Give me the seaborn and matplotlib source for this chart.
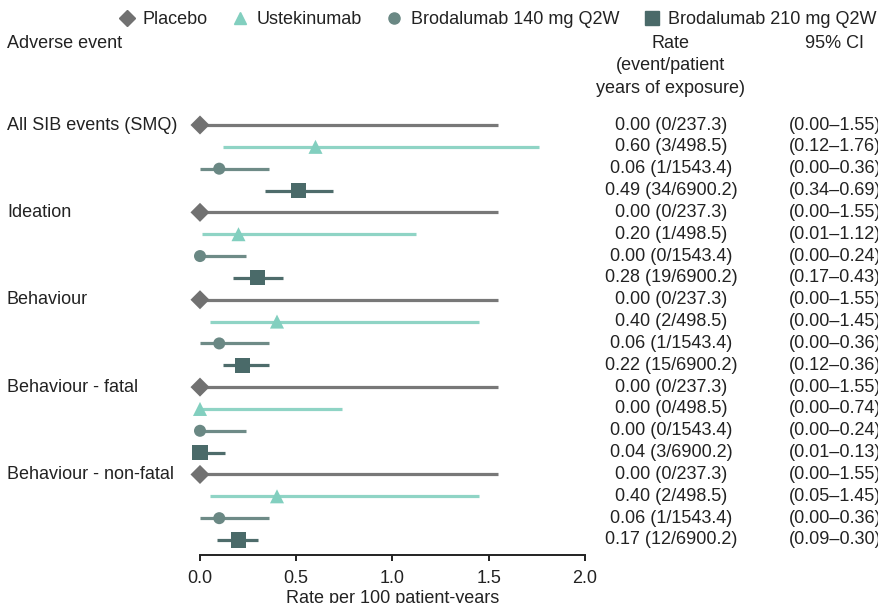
import pandas as pd
import matplotlib.pyplot as plt
import matplotlib.transforms as mtransforms
from matplotlib.lines import Line2D
import seaborn as sns

treatments = ['Placebo', 'Ustekinumab', 'Brodalumab 140 mg Q2W', 'Brodalumab 210 mg Q2W']
events = ['All SIB events (SMQ)', 'Ideation', 'Behaviour', 'Behaviour - fatal', 'Behaviour - non-fatal']

# marker positions as drawn in the chart
rates = [0.00, 0.60, 0.10, 0.51,
         0.00, 0.20, 0.00, 0.30,
         0.00, 0.40, 0.10, 0.22,
         0.00, 0.00, 0.00, 0.00,
         0.00, 0.40, 0.10, 0.20]
ci_low = [0.00, 0.12, 0.00, 0.34,
          0.00, 0.01, 0.00, 0.17,
          0.00, 0.05, 0.00, 0.12,
          0.00, 0.00, 0.00, 0.01,
          0.00, 0.05, 0.00, 0.09]
ci_high = [1.55, 1.76, 0.36, 0.69,
           1.55, 1.12, 0.24, 0.43,
           1.55, 1.45, 0.36, 0.36,
           1.55, 0.74, 0.24, 0.13,
           1.55, 1.45, 0.36, 0.30]
rate_text = ['0.00 (0/237.3)', '0.60 (3/498.5)', '0.06 (1/1543.4)', '0.49 (34/6900.2)',
             '0.00 (0/237.3)', '0.20 (1/498.5)', '0.00 (0/1543.4)', '0.28 (19/6900.2)',
             '0.00 (0/237.3)', '0.40 (2/498.5)', '0.06 (1/1543.4)', '0.22 (15/6900.2)',
             '0.00 (0/237.3)', '0.00 (0/498.5)', '0.00 (0/1543.4)', '0.04 (3/6900.2)',
             '0.00 (0/237.3)', '0.40 (2/498.5)', '0.06 (1/1543.4)', '0.17 (12/6900.2)']
ci_text = ['(0.00\u20131.55)', '(0.12\u20131.76)', '(0.00\u20130.36)', '(0.34\u20130.69)',
           '(0.00\u20131.55)', '(0.01\u20131.12)', '(0.00\u20130.24)', '(0.17\u20130.43)',
           '(0.00\u20131.55)', '(0.00\u20131.45)', '(0.00\u20130.36)', '(0.12\u20130.36)',
           '(0.00\u20131.55)', '(0.00\u20130.74)', '(0.00\u20130.24)', '(0.01\u20130.13)',
           '(0.00\u20131.55)', '(0.05\u20131.45)', '(0.00\u20130.36)', '(0.09\u20130.30)']

marker_col = {'Placebo': '#717171', 'Ustekinumab': '#82cfbf',
              'Brodalumab 140 mg Q2W': '#6a8884', 'Brodalumab 210 mg Q2W': '#4a6a69'}
line_col = {'Placebo': '#787878', 'Ustekinumab': '#8fd4c5',
            'Brodalumab 140 mg Q2W': '#6e8b87', 'Brodalumab 210 mg Q2W': '#4e6c6b'}
markers = {'Placebo': 'D', 'Ustekinumab': '^', 'Brodalumab 140 mg Q2W': 'o', 'Brodalumab 210 mg Q2W': 's'}
sizes = {'Placebo': 94, 'Ustekinumab': 102, 'Brodalumab 140 mg Q2W': 75, 'Brodalumab 210 mg Q2W': 117}

df = pd.DataFrame({'rate': rates, 'lo': ci_low, 'hi': ci_high,
                   'treatment': treatments * len(events)})
df['row'] = range(len(df))

sns.set_style('white')
plt.rcParams['font.family'] = ['Liberation Sans', 'DejaVu Sans']
txt = '#222222'

fig = plt.figure(figsize=(8.79, 6.03), dpi=100)
ax = fig.add_axes([200 / 879, 1 - 555 / 603, 385 / 879, 445 / 603])

for t in treatments:
    sub = df[df['treatment'] == t]
    ax.hlines(sub['row'], sub['lo'], sub['hi'], color=line_col[t], linewidth=2.3, zorder=2)

sns.scatterplot(data=df, x='rate', y='row', hue='treatment', style='treatment', size='treatment',
                palette=marker_col, markers=markers, sizes=sizes, linewidth=0,
                legend=False, ax=ax, zorder=3, clip_on=False)
for c in ax.collections:
    c.set_clip_on(False)

ax.set_xlim(0, 2)
ax.set_ylim(19.687, -0.687)
ax.set_xticks([0, 0.5, 1.0, 1.5, 2.0])
ax.set_xticklabels(['0.0', '0.5', '1.0', '1.5', '2.0'])
ax.set_yticks([])
ax.set_ylabel('')
ax.set_xlabel('Rate per 100 patient-years', fontsize=13, color=txt, labelpad=2)
for s in ['top', 'right', 'left']:
    ax.spines[s].set_visible(False)
ax.spines['bottom'].set_color('#222222')
ax.spines['bottom'].set_linewidth(1.4)
ax.tick_params(axis='x', direction='out', length=4, width=1.4, color='#222222',
               labelsize=13, labelcolor=txt, pad=7, bottom=True)
ax.set_facecolor('none')

tr = mtransforms.blended_transform_factory(fig.transFigure, ax.transData)
for i, ev in enumerate(events):
    ax.text(7 / 879, i * 4, ev, transform=tr, ha='left', va='center', fontsize=13, color=txt)
for i in range(len(df)):
    ax.text(671 / 879, i, rate_text[i], transform=tr, ha='center', va='center', fontsize=13, color=txt)
    ax.text(789 / 879, i, ci_text[i], transform=tr, ha='left', va='center', fontsize=13, color=txt)

fig.text(7 / 879, 1 - 43 / 603, 'Adverse event', ha='left', va='center', fontsize=13, color=txt)
fig.text(671 / 879, 1 - 66 / 603, 'Rate\n(event/patient\nyears of exposure)', ha='center',
         va='center', fontsize=13, color=txt, linespacing=1.42)
fig.text(835 / 879, 1 - 43 / 603, '95% CI', ha='center', va='center', fontsize=13, color=txt)

handles = [Line2D([], [], linestyle='', marker='D', markersize=8.2, color=marker_col['Placebo']),
           Line2D([], [], linestyle='', marker='^', markersize=9, color=marker_col['Ustekinumab']),
           Line2D([], [], linestyle='', marker='o', markersize=8, color=marker_col['Brodalumab 140 mg Q2W']),
           Line2D([], [], linestyle='', marker='s', markersize=10, color=marker_col['Brodalumab 210 mg Q2W'])]
fig.legend(handles, treatments, loc='center', bbox_to_anchor=(497 / 879, 1 - 20 / 603), ncol=4,
           frameon=False, fontsize=13, handlelength=1.0, handletextpad=0.4, columnspacing=1.3,
           labelcolor=txt, borderpad=0)

fig.savefig('out.png', dpi=100)
